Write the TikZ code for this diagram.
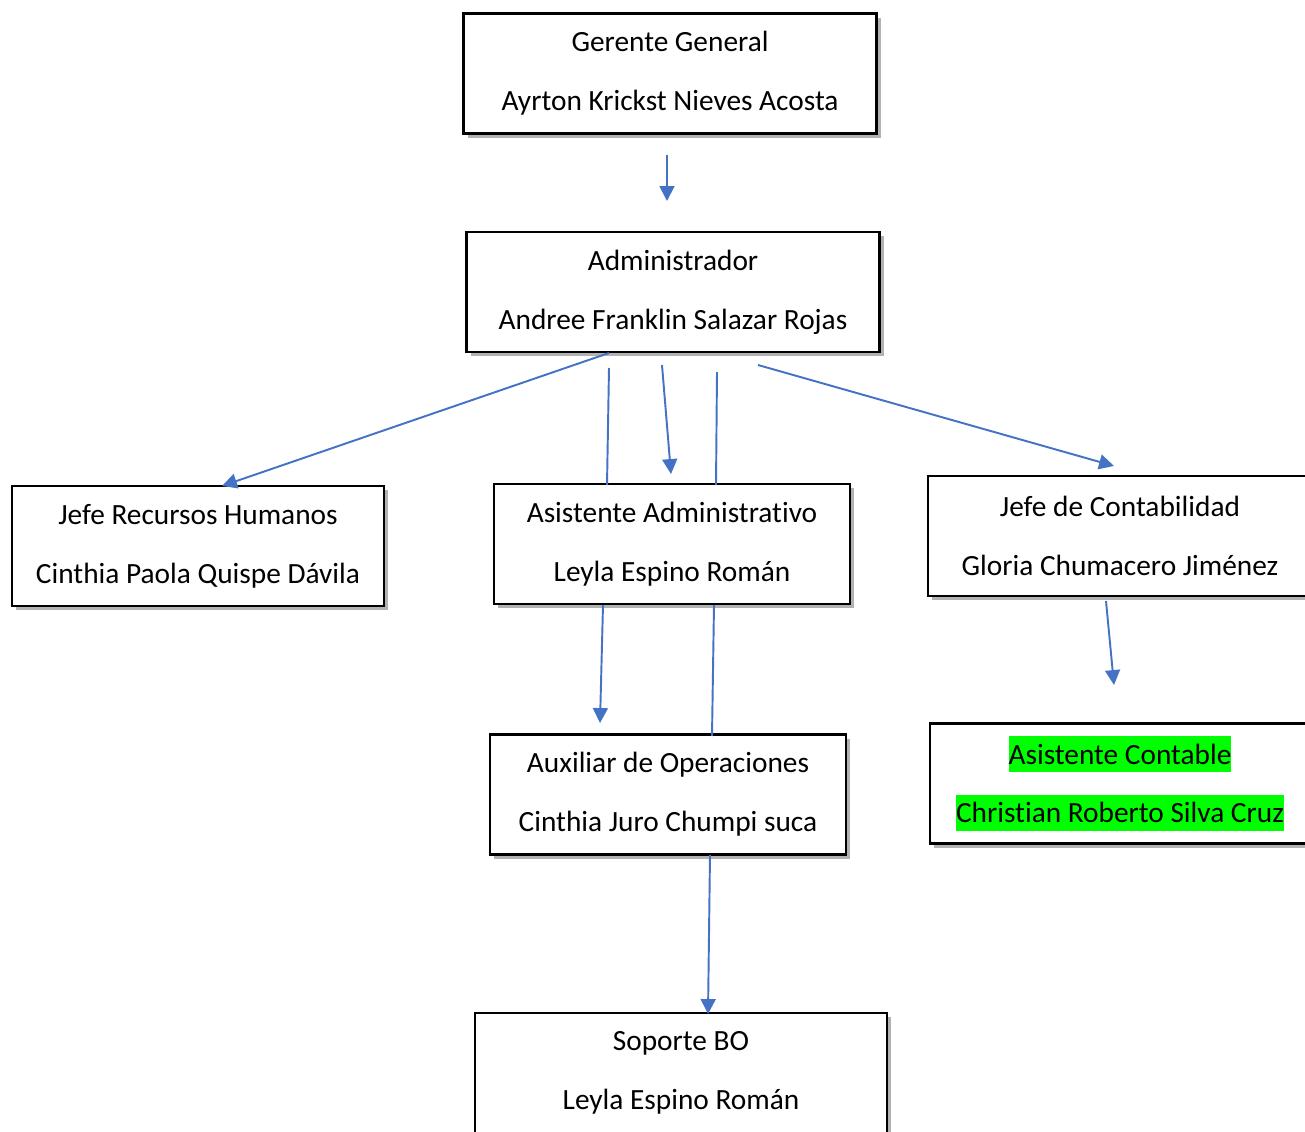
\documentclass[tikz,border=0pt]{standalone}
\usepackage{fontspec}
\setmainfont{Carlito}[Ligatures=NoCommon]
\usetikzlibrary{arrows.meta,shadows}
\definecolor{azul}{RGB}{68,114,196}
\definecolor{verde}{RGB}{0,255,0}
\newcommand{\resaltar}[1]{{\setlength{\fboxsep}{0pt}\colorbox{verde}{\rule[-4.5pt]{0pt}{20.4pt}#1}}}
\tikzset{
    puesto/.style={
        rectangle,
        draw=black,
        line width=1.5pt,
        fill=white,
        minimum width=#1,
        minimum height=2.4cm,
        align=center,
        font=\fontsize{16.7}{33.5}\selectfont,
        drop shadow={shadow xshift=2.5pt, shadow yshift=-2.5pt, fill=black, opacity=0.3}
    },
    puesto/.default={8.26cm},
    flecha/.style={
        draw=azul,
        line width=1.1pt,
        -{Triangle[length=8.5pt,width=8.5pt]}
    },
    linea/.style={
        draw=azul,
        line width=1.1pt
    }
}
\begin{document}
\begin{tikzpicture}[x=0.02cm, y=-0.02cm]
    \useasboundingbox (0,0) rectangle (1305,1132);

    % Puestos
    \node[puesto] (gerente) at (670,73.5) {Gerente General\\Ayrton Krickst Nieves Acosta};
    \node[puesto] (admin) at (673,292) {Administrador\\Andree Franklin Salazar Rojas};
    \node[puesto=7.44cm] (jeferh) at (198,546) {Jefe Recursos Humanos\\Cinthia Paola Quispe Dávila};
    \node[puesto=7.12cm] (asistadm) at (672,544) {Asistente Administrativo\\Leyla Espino Román};
    \node[puesto=7.68cm] (jefecont) at (1120,536) {Jefe de Contabilidad\\Gloria Chumacero Jiménez};
    \node[puesto=7.6cm] (asistcont) at (1120,783.5) {\resaltar{Asistente Contable}\\\resaltar{Christian Roberto Silva Cruz}};
    \node[puesto=7.12cm] (auxop) at (668,794.5) {Auxiliar de Operaciones\\Cinthia Juro Chumpi suca};
    \node[puesto=8.24cm] (soporte) at (681,1073) {Soporte BO\\Leyla Espino Román};

    % Extremos libres de las flechas
    \coordinate (g1) at (667,155);
    \coordinate (g2) at (667,201);
    \coordinate (a1) at (609,353);
    \coordinate (a2) at (609,368);
    \coordinate (a3) at (662,365);
    \coordinate (a4) at (717,372);
    \coordinate (a5) at (758,365);
    \coordinate (rh) at (222,486);
    \coordinate (s1) at (607,485);
    \coordinate (s2) at (671,474);
    \coordinate (s3) at (716,485);
    \coordinate (c1) at (1114,466);
    \coordinate (c2) at (1106,601);
    \coordinate (c3) at (1114,685);
    \coordinate (d1) at (603,605);
    \coordinate (d2) at (600,723);
    \coordinate (d3) at (714,605);
    \coordinate (x1) at (712,736);
    \coordinate (x2) at (710,855);
    \coordinate (x3) at (708,1014);

    % Conectores
    \draw[flecha] (g1) -- (g2);
    \draw[flecha] (a1) -- (rh);
    \draw[linea] (a2) -- (s1);
    \draw[flecha] (a3) -- (s2);
    \draw[linea] (a4) -- (s3);
    \draw[flecha] (a5) -- (c1);
    \draw[flecha] (c2) -- (c3);
    \draw[flecha] (d1) -- (d2);
    \draw[linea] (d3) -- (x1);
    \draw[flecha] (x2) -- (x3);
\end{tikzpicture}
\end{document}
